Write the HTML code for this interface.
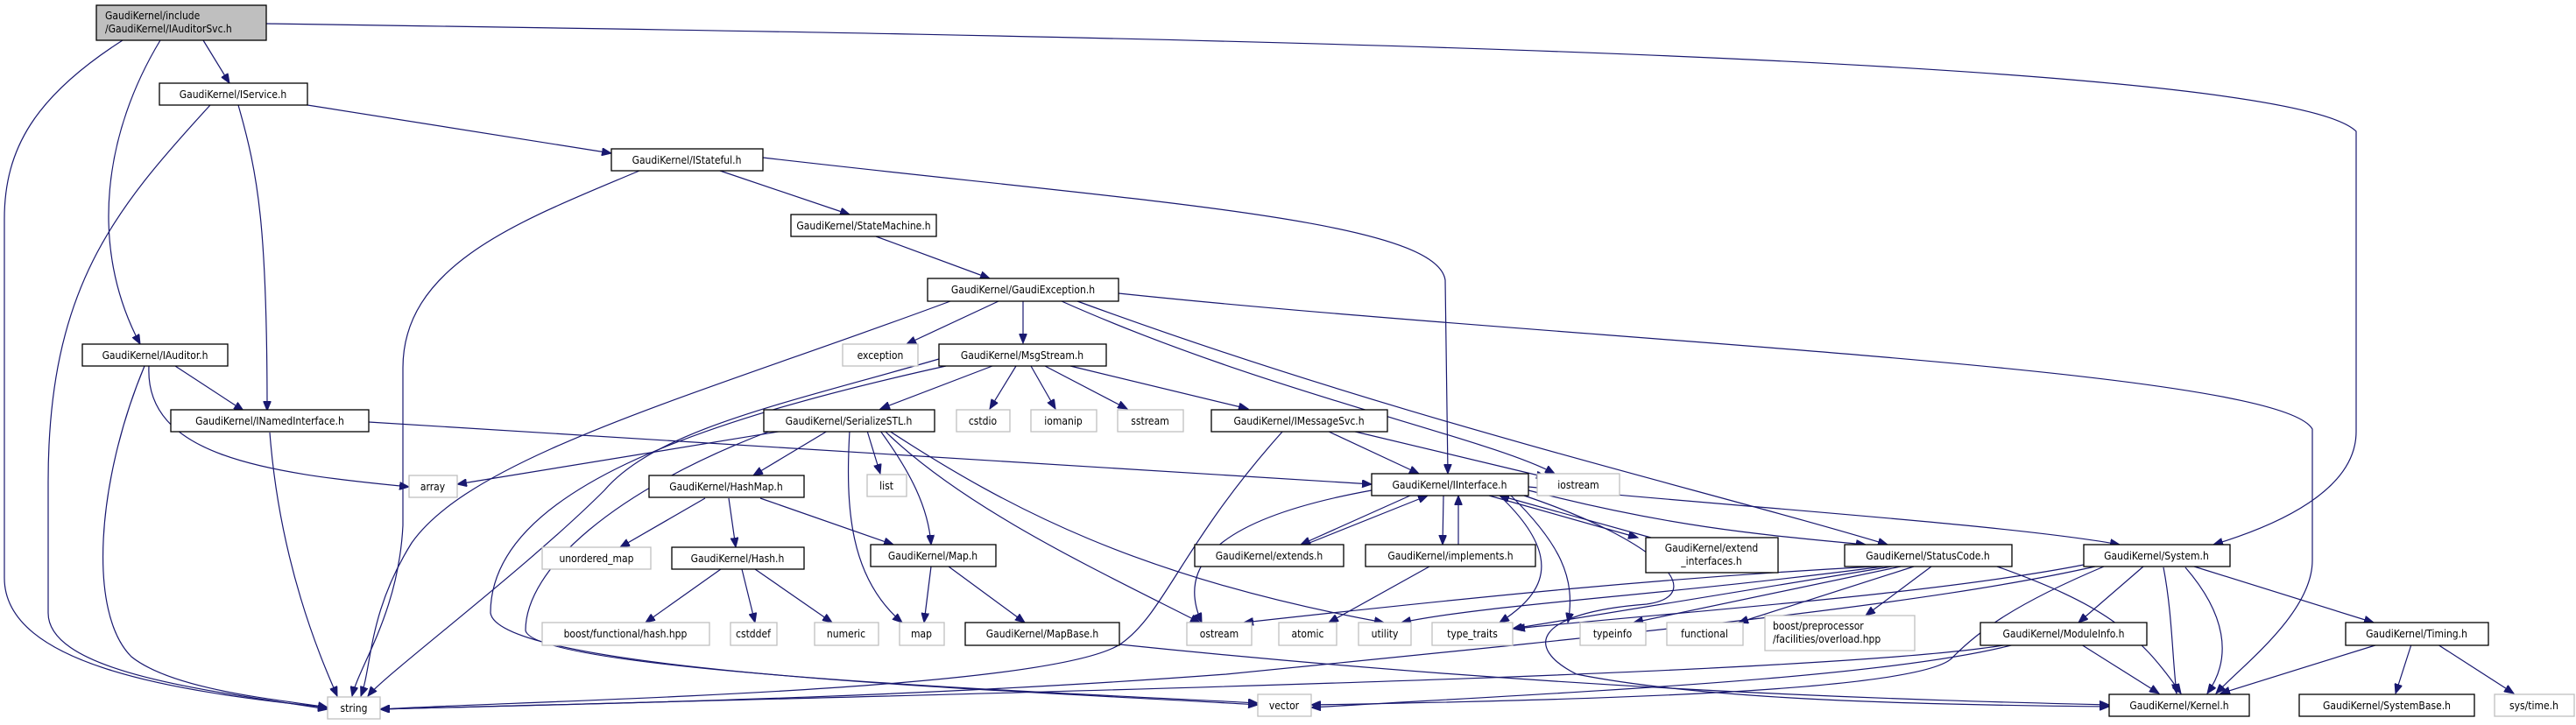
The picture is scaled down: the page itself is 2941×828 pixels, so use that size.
<!DOCTYPE html>
<html><head><meta charset="utf-8"><style>
html,body{margin:0;padding:0;background:#fff;}
svg{display:block;}
text{font-family:"DejaVu Sans Condensed","DejaVu Sans","Liberation Sans",sans-serif;font-size:12px;fill:#000;}
.d{fill:#fff;stroke:#000;stroke-width:1.3;}
.s{fill:#fff;stroke:#bfbfbf;stroke-width:1.3;}
.r{fill:#bfbfbf;stroke:#000;stroke-width:1.3;}
path{fill:none;stroke:#191970;stroke-width:1.2;}
</style></head><body>
<svg width="2941" height="828" viewBox="0 0 2941 828" xmlns="http://www.w3.org/2000/svg">
<defs><marker id="a" markerWidth="12" markerHeight="9" refX="11" refY="4.5" orient="auto" markerUnits="userSpaceOnUse"><path d="M0,0 L11,4.5 L0,9 Z" style="fill:#191970;stroke:#191970;stroke-width:1"/></marker></defs>
<g marker-end="url(#a)">
<path d="M232,46 L262,95"/>
<path d="M183,46 C120,150 100,280 160,393"/>
<path d="M140,46 C40,110 5,170 5,250 L5,660 C5,760 200,790 374,808"/>
<path d="M304,27 C1200,40 2600,60 2690,150 L2690,493 C2690,560 2600,600 2527,622"/>
<path d="M351,120 L698,175"/>
<path d="M240,120 C130,240 55,330 55,550 L55,700 C55,770 250,790 374,810"/>
<path d="M272,120 C295,200 305,260 305,469"/>
<path d="M730,195 C600,250 460,300 460,420 L460,600 C455,700 410,760 402,795"/>
<path d="M822,195 L970,245"/>
<path d="M871,180 C1300,230 1640,250 1650,320 L1653,541"/>
<path d="M1000,270 L1130,318"/>
<path d="M1085,344 C800,450 540,520 470,620 C420,700 425,760 412,795"/>
<path d="M1140,344 L1035,393"/>
<path d="M1168,344 L1168,392"/>
<path d="M1212,344 C1450,450 1700,500 1775,541"/>
<path d="M1230,344 C1600,480 1950,560 2155,622"/>
<path d="M1277,335 C1800,390 2600,420 2640,490 L2640,640 C2640,700 2560,760 2530,792"/>
<path d="M1133,418 L1005,467"/>
<path d="M1160,418 L1130,467"/>
<path d="M1177,418 L1205,467"/>
<path d="M1193,418 L1287,467"/>
<path d="M1222,418 L1425,467"/>
<path d="M1072,410 C900,460 750,490 690,560 C600,650 440,770 420,795"/>
<path d="M1080,418 C800,480 560,560 560,700 C570,770 1200,790 1436,805"/>
<path d="M895,492 L522,553"/>
<path d="M945,492 L860,543"/>
<path d="M990,492 L1005,541"/>
<path d="M1005,492 C1040,540 1060,580 1063,622"/>
<path d="M970,492 C965,580 970,660 1030,711"/>
<path d="M1010,492 C1100,580 1250,650 1370,711"/>
<path d="M1015,492 C1150,580 1300,660 1580,711"/>
<path d="M880,492 C700,560 600,650 600,720 C610,770 1300,795 1436,803"/>
<path d="M421,482 L1566,553"/>
<path d="M308,494 C320,650 370,760 385,795"/>
<path d="M200,418 L278,469"/>
<path d="M170,418 C165,520 300,540 467,556"/>
<path d="M165,418 C110,550 100,700 150,750 C200,790 330,800 374,808"/>
<path d="M805,569 L708,625"/>
<path d="M832,569 L840,625"/>
<path d="M868,569 L1020,622"/>
<path d="M823,650 L737,711"/>
<path d="M847,650 L862,711"/>
<path d="M862,650 L950,711"/>
<path d="M1063,647 L1055,711"/>
<path d="M1083,647 L1170,711"/>
<path d="M1278,736 C1800,790 2200,800 2408,805"/>
<path d="M1515,492 L1620,541"/>
<path d="M1543,492 L1765,545"/>
<path d="M1465,492 C1350,620 1330,700 1280,735 C1200,790 600,800 434,810"/>
<path d="M1566,560 C1400,590 1340,640 1372,711"/>
<path d="M1610,566 L1485,622"/>
<path d="M1490,622 L1630,566"/>
<path d="M1648,566 L1647,622"/>
<path d="M1665,622 L1665,566"/>
<path d="M1632,647 L1517,711"/>
<path d="M1700,566 L1870,614"/>
<path d="M1885,614 L1712,566"/>
<path d="M1745,560 C1900,600 2000,610 2130,622"/>
<path d="M1745,556 C2000,580 2300,600 2420,622"/>
<path d="M1712,566 C1790,640 1760,680 1712,711"/>
<path d="M1725,566 C1780,620 1800,660 1790,711"/>
<path d="M1740,566 C1900,620 1950,680 1880,690 C1750,700 1740,740 1800,770 C1950,800 2200,805 2408,807"/>
<path d="M2140,647 C1900,660 1700,680 1420,711"/>
<path d="M2150,647 C1900,680 1700,690 1600,711"/>
<path d="M2160,647 L1727,718"/>
<path d="M2170,647 L1865,711"/>
<path d="M2185,647 L1985,711"/>
<path d="M2205,647 L2130,703"/>
<path d="M2280,647 C2400,690 2440,720 2490,792"/>
<path d="M2392,647 C2200,690 1900,720 1400,770 C1000,800 600,805 434,810"/>
<path d="M2402,647 C2300,690 2260,720 2230,750 C2200,790 1800,800 1497,805"/>
<path d="M2447,647 L2373,711"/>
<path d="M2379,645 C2200,680 1900,700 1730,718"/>
<path d="M2470,648 C2480,700 2480,750 2485,792"/>
<path d="M2495,648 C2540,700 2550,750 2520,792"/>
<path d="M2505,647 L2710,711"/>
<path d="M2293,736 C2100,770 1200,790 434,810"/>
<path d="M2300,736 C2150,775 1800,790 1497,808"/>
<path d="M2376,736 L2465,792"/>
<path d="M2715,736 L2535,792"/>
<path d="M2753,736 L2735,792"/>
<path d="M2783,736 L2870,792"/>
</g>
<g>
<rect class="r" x="110" y="6" width="194" height="40"/>
<text x="120" y="22">GaudiKernel/include</text><text x="120" y="37">/GaudiKernel/IAuditorSvc.h</text>
<rect class="d" x="182" y="95" width="169" height="25"/><text x="266" y="112" text-anchor="middle">GaudiKernel/IService.h</text>
<rect class="d" x="698" y="170" width="173" height="25"/><text x="784" y="187" text-anchor="middle">GaudiKernel/IStateful.h</text>
<rect class="d" x="903" y="245" width="166" height="25"/><text x="986" y="262" text-anchor="middle">GaudiKernel/StateMachine.h</text>
<rect class="d" x="1059" y="318" width="218" height="26"/><text x="1168" y="335" text-anchor="middle">GaudiKernel/GaudiException.h</text>
<rect class="s" x="962" y="393" width="86" height="25"/><text x="1005" y="410" text-anchor="middle">exception</text>
<rect class="d" x="1072" y="393" width="191" height="25"/><text x="1167" y="410" text-anchor="middle">GaudiKernel/MsgStream.h</text>
<rect class="d" x="94" y="393" width="166" height="25"/><text x="177" y="410" text-anchor="middle">GaudiKernel/IAuditor.h</text>
<rect class="d" x="195" y="468" width="226" height="25"/><text x="308" y="485" text-anchor="middle">GaudiKernel/INamedInterface.h</text>
<rect class="d" x="872" y="468" width="195" height="25"/><text x="969" y="485" text-anchor="middle">GaudiKernel/SerializeSTL.h</text>
<rect class="s" x="1092" y="468" width="61" height="25"/><text x="1122" y="485" text-anchor="middle">cstdio</text>
<rect class="s" x="1177" y="468" width="75" height="25"/><text x="1214" y="485" text-anchor="middle">iomanip</text>
<rect class="s" x="1276" y="468" width="75" height="25"/><text x="1313" y="485" text-anchor="middle">sstream</text>
<rect class="d" x="1383" y="468" width="201" height="25"/><text x="1483" y="485" text-anchor="middle">GaudiKernel/IMessageSvc.h</text>
<rect class="s" x="467" y="543" width="55" height="25"/><text x="494" y="560" text-anchor="middle">array</text>
<rect class="s" x="990" y="542" width="45" height="25"/><text x="1012" y="559" text-anchor="middle">list</text>
<rect class="d" x="741" y="543" width="177" height="25"/><text x="829" y="560" text-anchor="middle">GaudiKernel/HashMap.h</text>
<rect class="d" x="1566" y="541" width="179" height="25"/><text x="1655" y="558" text-anchor="middle">GaudiKernel/IInterface.h</text>
<rect class="s" x="1755" y="541" width="94" height="25"/><text x="1802" y="558" text-anchor="middle">iostream</text>
<rect class="s" x="619" y="625" width="124" height="25"/><text x="681" y="642" text-anchor="middle">unordered_map</text>
<rect class="d" x="767" y="625" width="151" height="25"/><text x="842" y="642" text-anchor="middle">GaudiKernel/Hash.h</text>
<rect class="d" x="994" y="622" width="143" height="25"/><text x="1065" y="639" text-anchor="middle">GaudiKernel/Map.h</text>
<rect class="d" x="1364" y="622" width="170" height="25"/><text x="1449" y="639" text-anchor="middle">GaudiKernel/extends.h</text>
<rect class="d" x="1559" y="622" width="194" height="25"/><text x="1656" y="639" text-anchor="middle">GaudiKernel/implements.h</text>
<rect class="d" x="1879" y="614" width="151" height="40"/><text x="1954" y="630" text-anchor="middle">GaudiKernel/extend</text><text x="1954" y="645" text-anchor="middle">_interfaces.h</text>
<rect class="d" x="2106" y="622" width="191" height="25"/><text x="2201" y="639" text-anchor="middle">GaudiKernel/StatusCode.h</text>
<rect class="d" x="2379" y="622" width="167" height="25"/><text x="2462" y="639" text-anchor="middle">GaudiKernel/System.h</text>
<rect class="s" x="619" y="711" width="191" height="26"/><text x="714" y="728" text-anchor="middle">boost/functional/hash.hpp</text>
<rect class="s" x="834" y="711" width="53" height="26"/><text x="860" y="728" text-anchor="middle">cstddef</text>
<rect class="s" x="930" y="711" width="73" height="26"/><text x="966" y="728" text-anchor="middle">numeric</text>
<rect class="s" x="1027" y="711" width="51" height="26"/><text x="1052" y="728" text-anchor="middle">map</text>
<rect class="d" x="1102" y="711" width="176" height="26"/><text x="1190" y="728" text-anchor="middle">GaudiKernel/MapBase.h</text>
<rect class="s" x="1355" y="711" width="74" height="26"/><text x="1392" y="728" text-anchor="middle">ostream</text>
<rect class="s" x="1460" y="711" width="66" height="26"/><text x="1493" y="728" text-anchor="middle">atomic</text>
<rect class="s" x="1551" y="711" width="60" height="26"/><text x="1581" y="728" text-anchor="middle">utility</text>
<rect class="s" x="1635" y="711" width="92" height="26"/><text x="1681" y="728" text-anchor="middle">type_traits</text>
<rect class="s" x="1804" y="711" width="75" height="26"/><text x="1841" y="728" text-anchor="middle">typeinfo</text>
<rect class="s" x="1903" y="711" width="87" height="26"/><text x="1946" y="728" text-anchor="middle">functional</text>
<rect class="s" x="2015" y="703" width="171" height="40"/><text x="2024" y="719">boost/preprocessor</text><text x="2024" y="734">/facilities/overload.hpp</text>
<rect class="d" x="2261" y="711" width="190" height="26"/><text x="2356" y="728" text-anchor="middle">GaudiKernel/ModuleInfo.h</text>
<rect class="d" x="2678" y="711" width="163" height="26"/><text x="2759" y="728" text-anchor="middle">GaudiKernel/Timing.h</text>
<rect class="s" x="374" y="796" width="60" height="25"/><text x="404" y="813" text-anchor="middle">string</text>
<rect class="s" x="1436" y="793" width="61" height="25"/><text x="1466" y="810" text-anchor="middle">vector</text>
<rect class="d" x="2408" y="793" width="160" height="25"/><text x="2488" y="810" text-anchor="middle">GaudiKernel/Kernel.h</text>
<rect class="d" x="2625" y="793" width="200" height="25"/><text x="2725" y="810" text-anchor="middle">GaudiKernel/SystemBase.h</text>
<rect class="s" x="2848" y="793" width="91" height="25"/><text x="2893" y="810" text-anchor="middle">sys/time.h</text>
</g>
</svg>
</body></html>
